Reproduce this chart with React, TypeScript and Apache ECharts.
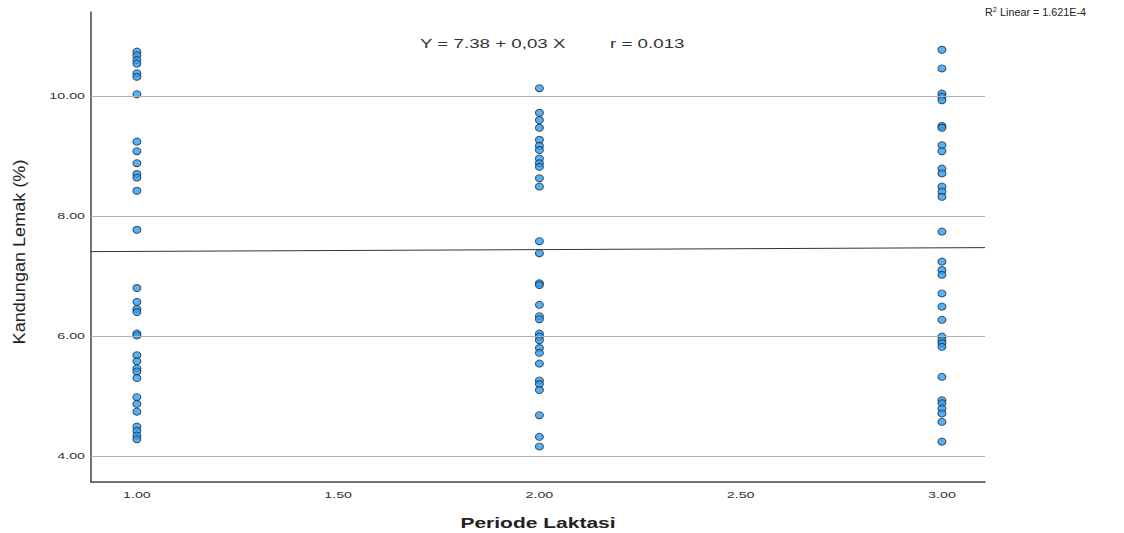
import React, { useEffect, useRef } from "react";
import * as echarts from "echarts";

const periode1: number[] = [10.74, 10.68, 10.6, 10.54, 10.38, 10.32, 10.03, 9.24, 9.08, 8.88, 8.7, 8.64, 8.42, 7.77, 6.8, 6.57, 6.45, 6.4, 6.04, 6.01, 5.68, 5.58, 5.46, 5.41, 5.3, 4.98, 4.87, 4.74, 4.49, 4.42, 4.34, 4.28];
const periode2: number[] = [10.13, 9.72, 9.6, 9.47, 9.27, 9.17, 9.1, 8.96, 8.88, 8.82, 8.63, 8.49, 7.58, 7.38, 6.88, 6.85, 6.52, 6.33, 6.28, 6.04, 5.99, 5.93, 5.8, 5.72, 5.54, 5.26, 5.2, 5.1, 4.68, 4.32, 4.16];
const periode3: number[] = [10.77, 10.46, 10.04, 9.99, 9.93, 9.5, 9.47, 9.18, 9.08, 8.79, 8.71, 8.49, 8.41, 8.32, 7.74, 7.24, 7.1, 7.02, 6.71, 6.49, 6.27, 5.99, 5.93, 5.88, 5.82, 5.32, 4.93, 4.88, 4.79, 4.71, 4.57, 4.24];

const xTicks: number[] = [1, 1.5, 2, 2.5, 3];
const yTicks: number[] = [4, 6, 8, 10];
const intercept = 7.38;
const slope = 0.03;
const xMin = 0.886;
const xMax = 3.107;
const yMin = 3.567;
const yMax = 11.4;

export default function App() {
  const ref = useRef<HTMLDivElement>(null);
  useEffect(() => {
    if (!ref.current) return;
    const chart = echarts.init(ref.current, null, { renderer: "svg" });
    const points: number[][] = [];
    periode1.forEach((v) => points.push([1, v]));
    periode2.forEach((v) => points.push([2, v]));
    periode3.forEach((v) => points.push([3, v]));
    const font = "Liberation Sans, Arial, sans-serif";
    chart.setOption({
      animation: false,
      backgroundColor: "#ffffff",
      textStyle: { fontFamily: font },
      grid: { left: 91, top: 12, width: 894, height: 470 },
      xAxis: {
        type: "value",
        min: xMin,
        max: xMax,
        axisLine: { show: true, onZero: false, lineStyle: { color: "#444", width: 1.5 } },
        axisTick: { show: false },
        splitLine: { show: false },
        axisLabel: { show: false },
      },
      yAxis: {
        type: "value",
        min: yMin,
        max: yMax,
        axisLine: { show: true, onZero: false, lineStyle: { color: "#444", width: 1.5 } },
        axisTick: { show: false },
        splitLine: { show: false },
        axisLabel: { show: false },
      },
      series: [
        {
          type: "line",
          data: [
            [xMin, intercept + slope * xMin],
            [xMax, intercept + slope * xMax],
          ],
          symbol: "none",
          lineStyle: { color: "#333", width: 1 },
          silent: true,
          z: 3,
          markLine: {
            silent: true,
            symbol: "none",
            label: { show: false },
            lineStyle: { color: "#b0b0b0", width: 1, type: "solid" },
            data: yTicks.map((t) => ({ yAxis: t })),
          },
        },
        {
          type: "scatter",
          data: points,
          symbol: "circle",
          symbolSize: [8, 7],
          itemStyle: { color: "#2e9ef0", borderColor: "#1a2f45", borderWidth: 1 },
          z: 4,
        },
      ],
    });

    const px = (x: number, y: number) => chart.convertToPixel({ gridIndex: 0 }, [x, y]) as number[];
    const graphics: any[] = [];
    yTicks.forEach((t) => {
      const p = px(xMin, t);
      graphics.push({
        type: "text",
        x: p[0] - 6,
        y: p[1],
        scaleX: 1.5,
        style: { text: t.toFixed(2), align: "right", verticalAlign: "middle", fontSize: 9.5, fill: "#333", fontFamily: font },
      });
    });
    xTicks.forEach((t) => {
      const p = px(t, yMin);
      graphics.push({
        type: "text",
        x: p[0],
        y: p[1] + 13,
        scaleX: 1.5,
        style: { text: t.toFixed(2), align: "center", verticalAlign: "middle", fontSize: 9.5, fill: "#333", fontFamily: font },
      });
    });
    const xc = px((xMin + xMax) / 2, yMin);
    graphics.push({
      type: "text",
      x: xc[0],
      y: xc[1] + 41,
      scaleX: 1.4,
      style: { text: "Periode Laktasi", align: "center", verticalAlign: "middle", fontSize: 15, fontWeight: "bold", fill: "#222", fontFamily: font },
    });
    const yc = px(xMin, (yMin + yMax) / 2);
    graphics.push({
      type: "text",
      x: 20,
      y: yc[1] + 5,
      rotation: Math.PI / 2,
      scaleX: 1.13,
      style: { text: "Kandungan Lemak (%)", align: "center", verticalAlign: "middle", fontSize: 16, fill: "#222", fontFamily: font },
    });
    graphics.push({
      type: "text",
      x: 420,
      y: 44,
      scaleX: 1.5,
      style: { text: "Y = 7.38 + 0,03 X", align: "left", verticalAlign: "middle", fontSize: 12.5, fill: "#333", fontFamily: font },
    });
    graphics.push({
      type: "text",
      x: 610,
      y: 44,
      scaleX: 1.5,
      style: { text: "r = 0.013", align: "left", verticalAlign: "middle", fontSize: 12.5, fill: "#333", fontFamily: font },
    });
    graphics.push({
      type: "text",
      x: 985,
      y: 13,
      scaleX: 1.08,
      style: {
        text: "{a|R}{s|2}{a| Linear = 1.621E-4}",
        align: "left",
        verticalAlign: "middle",
        rich: {
          a: { fontSize: 10, fill: "#222", fontFamily: font },
          s: { fontSize: 7, fill: "#222", fontFamily: font, padding: [0, 0, 6, 0] },
        },
      },
    });
    chart.setOption({ graphic: graphics });
    return () => chart.dispose();
  }, []);
  return (
    <div
      ref={ref}
      style={{ position: "fixed", left: 0, top: 0, width: 1124, height: 533 }}
    />
  );
}
